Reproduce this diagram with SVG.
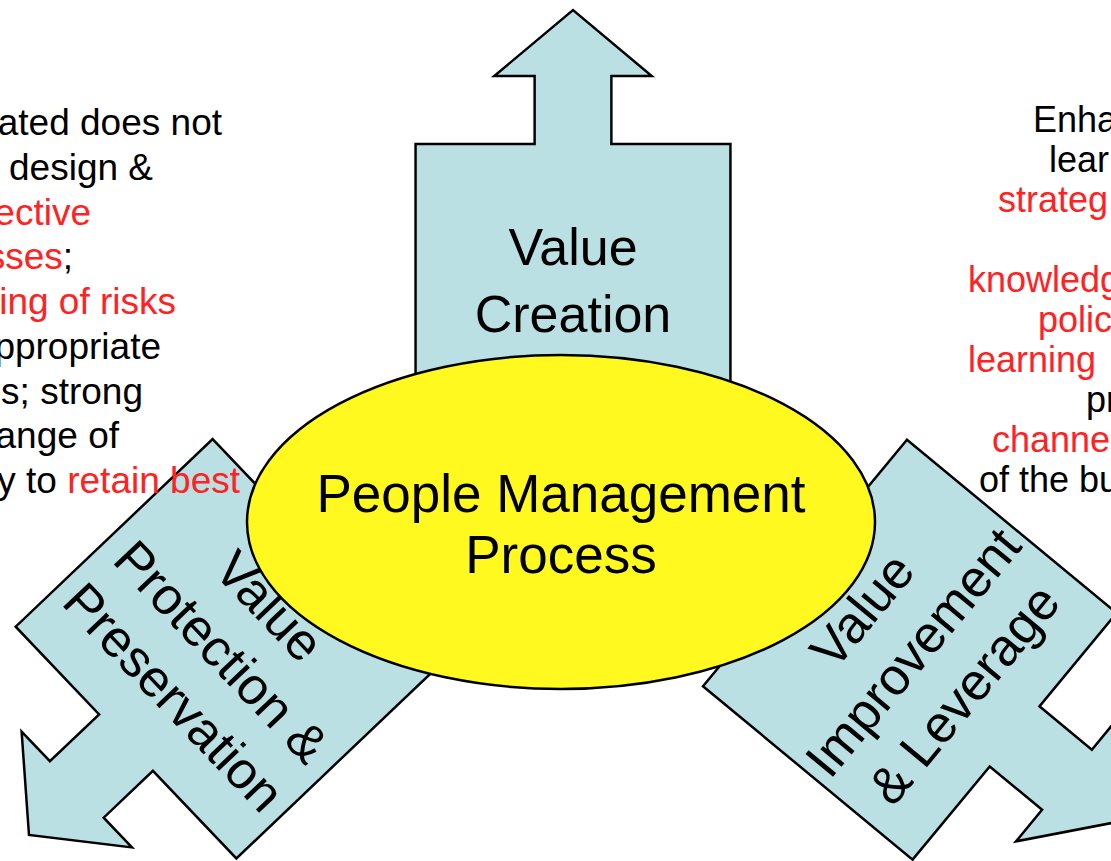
<svg xmlns="http://www.w3.org/2000/svg" width="1111" height="861" viewBox="0 0 1111 861">
  <style>
    .arrow { fill: #bbe0e3; stroke: #000; stroke-width: 2.5; stroke-linejoin: miter; }
    .hub { fill: #fff91f; stroke: #000; stroke-width: 2.5; }
    .big { font-family: "Liberation Sans", Arial, sans-serif; font-size: 52px; fill: #000; text-anchor: middle; }
    .note { font-family: "Liberation Sans", Arial, sans-serif; font-size: 37px; fill: #000; }
    .noteR { font-family: "Liberation Sans", Arial, sans-serif; font-size: 36px; fill: #000; }
    .red { fill: #ff2222; }
  </style>
  <defs>
    <!-- block arrow pointing down, body top edge centred on the origin -->
    <path id="blockArrow" d="M -160 0 H 160 V 272 H 39 V 340 H 80 L 0 406 L -80 340 H -39 V 272 H -160 Z"/>
  </defs>

  <!-- Value Creation (up) -->
  <g id="value-creation">
    <use href="#blockArrow" class="arrow" transform="translate(573,416) rotate(180) scale(0.984,1)"/>
    <text class="big" x="573" y="265">Value</text>
    <text class="big" x="573" y="332">Creation</text>
  </g>

  <!-- Value Protection & Preservation (down-left) -->
  <g id="value-protection">
    <g transform="translate(323,555) rotate(46.4)">
      <use href="#blockArrow" class="arrow"/>
      <text class="big" x="0" y="92">Value</text>
      <text class="big" x="0" y="158">Protection &amp;</text>
      <text class="big" x="0" y="224">Preservation</text>
    </g>
  </g>

  <!-- Value Improvement & Leverage (down-right) -->
  <g id="value-improvement">
    <g transform="translate(805,563) rotate(-50.4)">
      <use href="#blockArrow" class="arrow"/>
      <text class="big" x="0" y="92">Value</text>
      <text class="big" x="0" y="158">Improvement</text>
      <text class="big" x="0" y="224">&amp; Leverage</text>
    </g>
  </g>

  <!-- central process -->
  <g id="people-management">
    <ellipse class="hub" cx="561" cy="522" rx="314" ry="167"/>
    <text class="big" style="font-size:53px" x="561" y="512">People Management</text>
    <text class="big" style="font-size:53px" x="561" y="573">Process</text>
  </g>

  <!-- left note -->
  <g id="note-left" class="note" text-anchor="end">
    <text x="222" y="135">ated does not</text>
    <text x="153" y="180">design &amp;</text>
    <text x="91" y="225" class="note red">ective</text>
    <text x="73" y="269"><tspan class="red">sses</tspan>;</text>
    <text x="176" y="314" class="note red">ing of risks</text>
    <text x="161" y="359">ppropriate</text>
    <text x="143" y="404">s; strong</text>
    <text x="119" y="448">ange of</text>
    <text x="240" y="493">y to <tspan class="red">retain best</tspan></text>
  </g>

  <!-- right note -->
  <g id="note-right" class="noteR">
    <text x="1033" y="132">Enha</text>
    <text x="1049" y="172">lear</text>
    <text x="998" y="212" class="noteR red">strateg</text>
    <text x="968" y="292" class="noteR red">knowledg</text>
    <text x="1038" y="332" class="noteR red">polic</text>
    <text x="968" y="372" class="noteR red">learning</text>
    <text x="1086" y="412">pr</text>
    <text x="992" y="452" class="noteR red">channe</text>
    <text x="979" y="492">of the bu</text>
  </g>
</svg>
